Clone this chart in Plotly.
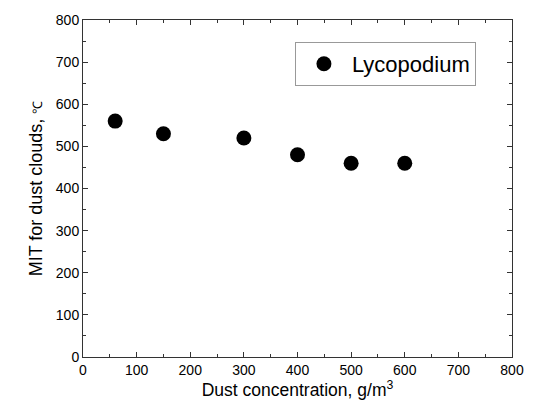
import plotly.graph_objects as go

concentration = [60, 150, 300, 400, 500, 600]
mit = [560, 530, 520, 480, 460, 460]
series_name = "Lycopodium"

fig = go.Figure()
fig.add_trace(go.Scatter(
    x=concentration, y=mit, mode="markers", name=series_name,
    marker=dict(color="black", size=15, symbol="circle"),
))

axis_common = dict(
    showgrid=False, zeroline=False, showline=True, linecolor="#333333", linewidth=1,
    mirror="ticks", ticks="inside", ticklen=5, tickcolor="#333333", tickwidth=1,
    tickfont=dict(family="Liberation Sans, Arial", size=14, color="black"),
    minor=dict(ticks="inside", ticklen=3, tickcolor="#333333", dtick=50, showgrid=False),
)

fig.update_layout(
    width=536, height=407,
    margin=dict(l=83, r=22, t=15, b=50),
    paper_bgcolor="white", plot_bgcolor="white",
    font=dict(family="Liberation Sans, Arial", color="black"),
    xaxis=dict(range=[0, 800], dtick=100, **axis_common,
               title=dict(text="Dust concentration, g/m<sup>3</sup>", font=dict(size=17.5), standoff=4)),
    yaxis=dict(range=[0, 800], dtick=100, **axis_common,
               title=dict(text="MIT for dust clouds, <span style='font-size:13px'>℃</span>", font=dict(size=18), standoff=8)),
    showlegend=True,
    legend=dict(x=0.494, y=0.935, xanchor="left", yanchor="top",
                bordercolor="#999999", borderwidth=1, bgcolor="white",
                font=dict(size=22, family="Liberation Sans, Arial"),
                itemsizing="trace", itemwidth=46, entrywidth=188,
                tracegroupgap=0),
)

fig.write_html("out.html")
